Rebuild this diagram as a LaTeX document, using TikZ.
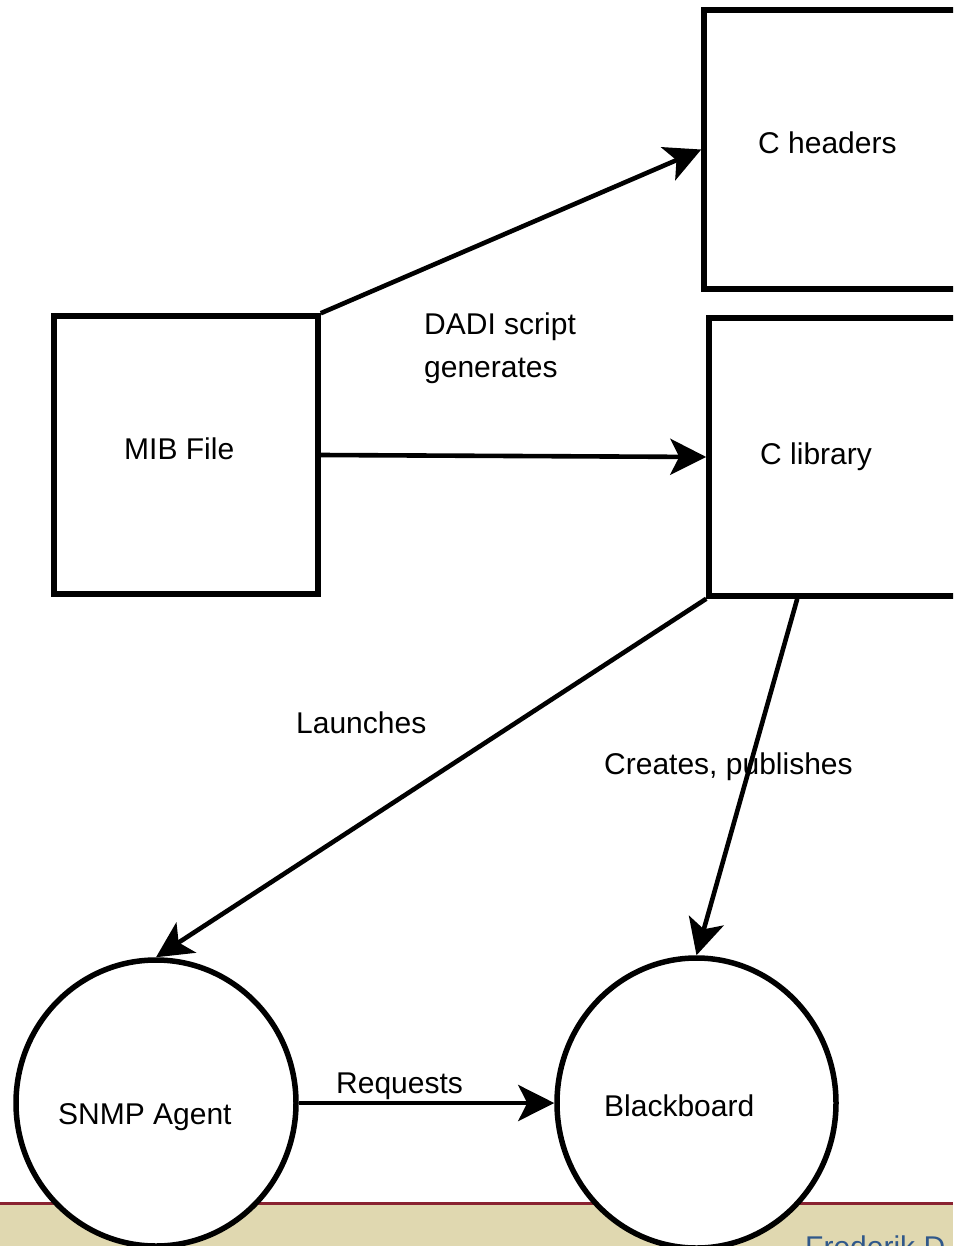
\documentclass[tikz,border=0pt]{standalone}
\usepackage{fontspec}
\setmainfont{Liberation Sans}
\usetikzlibrary{arrows.meta,shapes.geometric}
\definecolor{bandfill}{HTML}{E0D8B0}
\definecolor{bandline}{HTML}{8A2331}
\definecolor{authorblue}{HTML}{30588A}
\tikzset{
  box/.style={draw=black, line width=5.5pt, fill=white, rectangle, inner sep=0pt},
  blob/.style={draw=black, line width=5.5pt, fill=white, ellipse, inner sep=0pt},
  txt/.style={anchor=base west, inner sep=0pt, font=\fontsize{30}{36}\selectfont},
  conn/.style={line width=4.6pt, -{Stealth[length=36pt,width=36pt,inset=9pt]}}
}
\begin{document}
\begin{tikzpicture}[x=1pt,y=-1pt]
\useasboundingbox (0,0) rectangle (953,1246);
\clip (0,0) rectangle (953,1246);
% footer band
\fill[bandfill] (0,1203) rectangle (953,1250);
\draw[bandline, line width=3pt] (0,1203) -- (953,1203);
\node[txt, text=authorblue] (author) at (805,1257) {Frederik D};
% shapes
\node[box, minimum width=264pt, minimum height=278pt] (mib) at (186,455) {};
\node[box, minimum width=260pt, minimum height=279pt] (hdr) at (834,149.5) {};
\node[box, minimum width=260pt, minimum height=278pt] (lib) at (839,457) {};
\node[blob, minimum width=280pt, minimum height=286pt] (snmp) at (156,1103) {};
\node[blob, minimum width=279pt, minimum height=290pt] (bb) at (696.5,1103) {};
% node texts
\node[txt] (mibt) at (124,459) {MIB File};
\node[txt] (hdrt) at (758,154) {C headers};
\node[txt] (libt) at (760,464) {C library};
\node[txt] (snmpt) at (58,1124) {SNMP Agent};
\node[txt] (bbt) at (604,1116) {Blackboard};
% connector labels
\node[txt] (dadi1) at (424,334) {DADI script};
\node[txt] (dadi2) at (424,377) {generates};
\node[txt] (launch) at (296,733) {Launches};
\node[txt] (creates) at (604,774) {Creates, publishes};
\node[txt] (req) at (336,1093) {Requests};
% connectors
\coordinate (libout) at ([xshift=91pt]lib.south west);
\draw[conn] (mib.north east) -- (hdr.west);
\draw[conn] (mib.east) -- (lib.west);
\draw[conn] (lib.south west) -- (snmp.north);
\draw[conn] (libout) -- (bb.north);
\draw[conn] (snmp.east) -- (bb.west);
\end{tikzpicture}
\end{document}
